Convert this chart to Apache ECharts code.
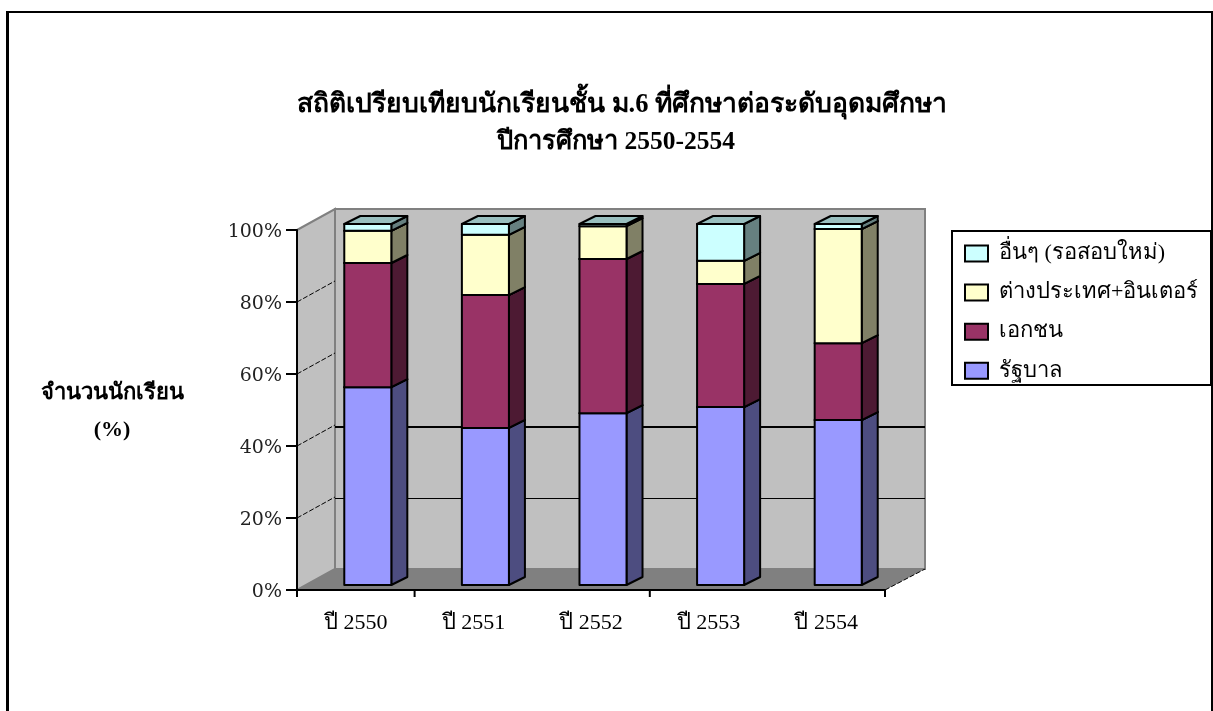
<!DOCTYPE html>
<html><head><meta charset="utf-8">
<style>html,body{margin:0;padding:0;background:#fff}#c{width:1213px;height:711px}</style>
<script src="https://cdn.jsdelivr.net/npm/echarts@6/dist/echarts.min.js"></script>
</head><body><div id="c"></div>
<script>
const categories = ['ปี 2550','ปี 2551','ปี 2552','ปี 2553','ปี 2554'];
const government = [54.8,43.5,47.6,49.3,45.7];
const privateSchool = [34.4,36.8,42.7,34.1,21.3];
const abroad = [8.9,16.7,9.1,6.4,31.6];
const others = [1.9,3.0,0.6,10.2,1.4];
const seriesNames = ['รัฐบาล','เอกชน','ต่างประเทศ+อินเตอร์','อื่นๆ (รอสอบใหม่)'];
const gridLineValues = [20,40];
const wallTickValues = [20,40,60,80];
const longTickBoundaries = [0,1,3,5];
const shortTickBoundaries = [2,4];

const FONT = '"Liberation Serif","DejaVu Serif",serif';
const WALL = [38,-21];
const WALL_RIGHT_DX = 40;
const BAR_DEPTH = [16,-8];
const palette = [
  {front:'#9999FF', side:'#4D4D80', top:'#7A7ACC'},
  {front:'#993366', side:'#4D1A33', top:'#7A2952'},
  {front:'#FFFFCC', side:'#808066', top:'#CCCCA3'},
  {front:'#CCFFFF', side:'#668080', top:'#99BFBF'}
];
const stacks = [government,privateSchool,abroad,others];
const barLine = {stroke:'#000',lineWidth:2,lineJoin:'round'};

function barRender(si){
  return function(params,api){
    const i = api.value(0);
    const a = api.coord([i,api.value(1)]);
    const b = api.coord([i,api.value(2)]);
    const w = api.size([1,0])[0]*0.4;
    const l = a[0]-w/2, r = a[0]+w/2, dx = BAR_DEPTH[0], dy = BAR_DEPTH[1];
    const c = palette[si];
    return {type:'group',children:[
      {type:'polygon',shape:{points:[[r,a[1]],[r+dx,a[1]+dy],[r+dx,b[1]+dy],[r,b[1]]]},style:{fill:c.side,...barLine}},
      {type:'polygon',shape:{points:[[l,b[1]],[r,b[1]],[r+dx,b[1]+dy],[l+dx,b[1]+dy]]},style:{fill:c.top,...barLine}},
      {type:'rect',shape:{x:l,y:b[1],width:w,height:a[1]-b[1]},style:{fill:c.front,...barLine}}
    ]};
  };
}
function wallsRender(params){
  const s = params.coordSys, x0 = s.x, x1 = s.x+s.width, yT = s.y, yB = s.y+s.height, dx = WALL[0], dy = WALL[1], rx = x1+WALL_RIGHT_DX;
  const gray = {stroke:'#808080',lineWidth:2};
  return {type:'group',children:[
    {type:'polygon',shape:{points:[[x0+dx,yT+dy],[rx,yT+dy],[rx,yB+dy],[x0+dx,yB+dy]]},style:{fill:'#C0C0C0',...gray}},
    {type:'polygon',shape:{points:[[x0,yT],[x0+dx,yT+dy],[x0+dx,yB+dy],[x0,yB]]},style:{fill:'#C0C0C0',...gray}},
    {type:'polygon',shape:{points:[[x0,yB],[x0+dx,yB+dy],[rx,yB+dy],[x1,yB]]},style:{fill:'#808080'}},
    {type:'line',shape:{x1:x1,y1:yB,x2:rx,y2:yB+dy},style:{stroke:'#000',lineWidth:1,lineDash:[5,2]}}
  ]};
}
function gridLineRender(params,api){
  const s = params.coordSys, v = api.value(0), p = api.coord([0,v]);
  const w = v===40?2:1, y = p[1]+WALL[1]+(w===2?2:1.5);
  return {type:'line',shape:{x1:s.x+WALL[0],y1:y,x2:s.x+s.width+WALL_RIGHT_DX,y2:y},style:{stroke:'#000',lineWidth:w}};
}
function wallTickRender(params,api){
  const s = params.coordSys, p = api.coord([0,api.value(0)]);
  return {type:'line',shape:{x1:s.x,y1:p[1],x2:s.x+WALL[0],y2:p[1]+WALL[1]},
    style:{stroke:'#000',lineWidth:1,lineDash:[5,2]}};
}
function xTickRender(len,width){
  return function(params,api){
    const s = params.coordSys, x = s.x+s.width*api.value(0)/categories.length, y = s.y+s.height;
    return {type:'line',shape:{x1:x,y1:y,x2:x,y2:y+len},style:{stroke:'#000',lineWidth:width}};
  };
}
const barSeries = seriesNames.map((name,si)=>{
  const data = categories.map((_,i)=>{
    let base = 0;
    for(let k=0;k<si;k++) base += stacks[k][i];
    return [i,base,base+stacks[si][i]];
  });
  return {name,type:'custom',xAxisIndex:1,yAxisIndex:1,renderItem:barRender(si),
    encode:{x:0,y:[1,2]},data,
    itemStyle:{color:palette[si].front,borderColor:'#000',borderWidth:2}};
});
const chart = echarts.init(document.getElementById('c'),null,{renderer:'canvas'});
chart.setOption({
  animation:false,
  backgroundColor:'#fff',
  title:[
    {text:'สถิติเปรียบเทียบนักเรียนชั้น ม.6 ที่ศึกษาต่อระดับอุดมศึกษา',left:617,top:87,textAlign:'center',
     textStyle:{fontFamily:FONT,fontSize:26.5,fontWeight:'bold',color:'#000'}},
    {text:'ปีการศึกษา 2550-2554',left:611,top:124,textAlign:'center',
     textStyle:{fontFamily:FONT,fontSize:25.5,fontWeight:'bold',color:'#000'}},
    {text:'จำนวนนักเรียน',left:107,top:377,textAlign:'center',
     textStyle:{fontFamily:FONT,fontSize:22,fontWeight:'bold',color:'#000'}},
    {text:'(%)',left:107,top:414,textAlign:'center',
     textStyle:{fontFamily:FONT,fontSize:22,fontWeight:'bold',color:'#000'}}
  ],
  legend:{orient:'vertical',left:964,top:242.5,padding:0,itemWidth:23,itemHeight:16,itemGap:17.1,
    icon:'rect',data:seriesNames.slice().reverse(),selectedMode:false,
    textStyle:{fontFamily:FONT,fontSize:22,lineHeight:16,color:'#000',padding:[0,0,0,6]}},
  grid:[
    {left:297,width:588,top:230,height:360,outerBoundsMode:'none'},
    {left:309,width:588,top:224,height:361,outerBoundsMode:'none'}
  ],
  xAxis:[
    {type:'category',data:categories,gridIndex:0,z:10,
     axisLine:{lineStyle:{color:'#000',width:2}},
     axisTick:{show:false},
     axisLabel:{fontFamily:FONT,fontSize:22,color:'#000',margin:22}},
    {type:'category',data:categories,gridIndex:1,show:false}
  ],
  yAxis:[
    {type:'value',gridIndex:0,min:0,max:100,interval:20,z:10,
     axisLine:{show:true,lineStyle:{color:'#000',width:2}},
     axisTick:{show:true,length:11,lineStyle:{color:'#000',width:2}},
     axisLabel:{fontFamily:'"DejaVu Serif",serif',fontSize:19,color:'#222',margin:15,verticalAlign:'top',lineHeight:4,formatter:'{value}%'},
     splitLine:{show:false}},
    {type:'value',gridIndex:1,min:0,max:100,show:false,splitLine:{show:false}}
  ],
  graphic:[
    {type:'rect',z:-1,shape:{x:952,y:231,width:259,height:154},style:{fill:'#fff',stroke:'#000',lineWidth:2}},
    {type:'line',z:-1,shape:{x1:7.5,y1:11,x2:7.5,y2:711},style:{stroke:'#000',lineWidth:3}},
    {type:'line',z:-1,shape:{x1:6,y1:12,x2:1213,y2:12},style:{stroke:'#000',lineWidth:2}},
    {type:'line',z:-1,shape:{x1:1212,y1:11,x2:1212,y2:711},style:{stroke:'#000',lineWidth:2}}
  ],
  series:[
    {type:'custom',xAxisIndex:0,yAxisIndex:0,renderItem:wallsRender,data:[0],encode:{x:-1,y:-1},silent:true},
    {type:'custom',xAxisIndex:0,yAxisIndex:0,renderItem:gridLineRender,data:gridLineValues.map(v=>[v]),encode:{y:0},silent:true},
    {type:'custom',xAxisIndex:0,yAxisIndex:0,renderItem:wallTickRender,data:wallTickValues.map(v=>[v]),encode:{y:0},silent:true},
    {type:'custom',xAxisIndex:0,yAxisIndex:0,renderItem:xTickRender(7,2),data:longTickBoundaries.map(v=>[v]),encode:{x:-1,y:-1},silent:true},
    {type:'custom',xAxisIndex:0,yAxisIndex:0,renderItem:xTickRender(1,2),data:shortTickBoundaries.map(v=>[v]),encode:{x:-1,y:-1},silent:true},
    ...barSeries
  ]
});
</script></body></html>
